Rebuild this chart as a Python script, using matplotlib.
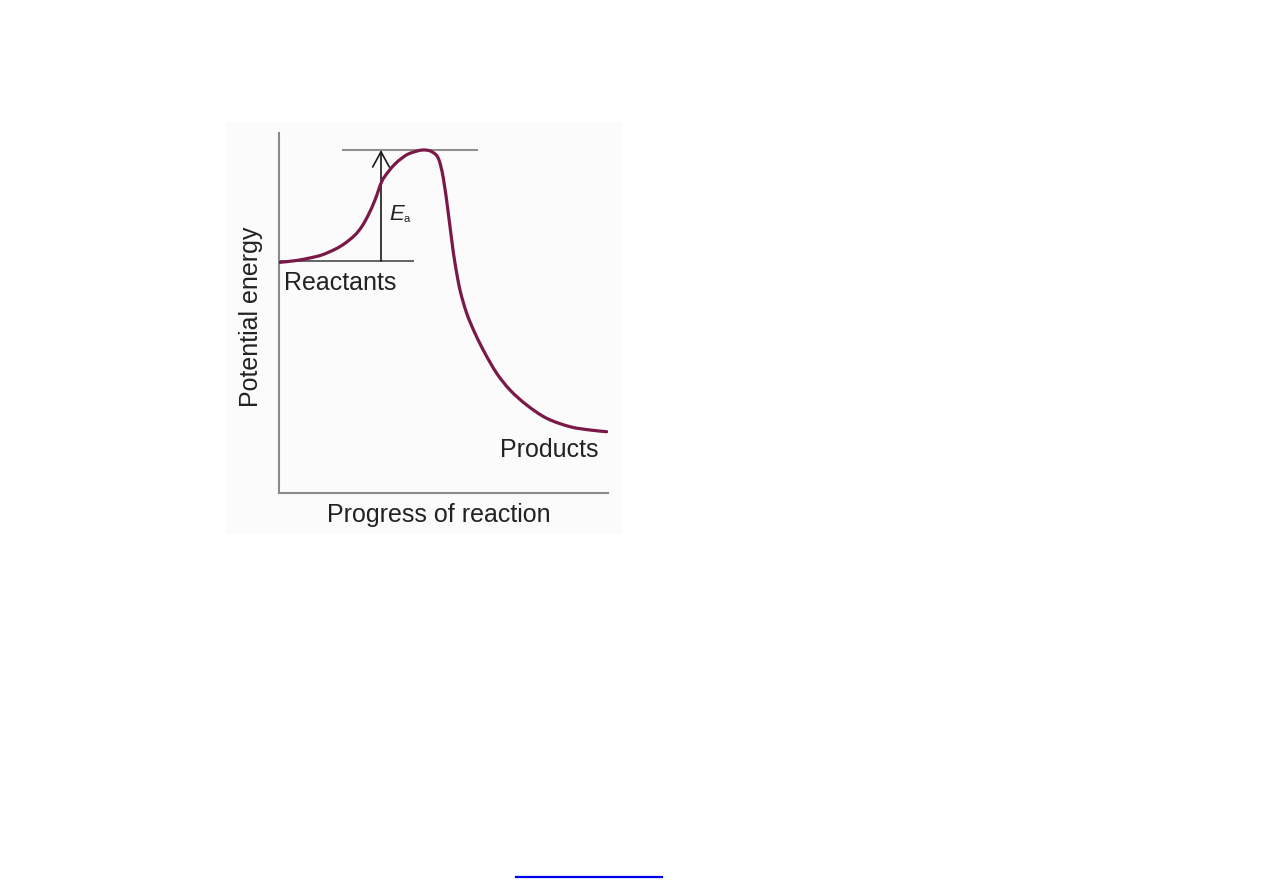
import matplotlib
matplotlib.use("Agg")
import matplotlib.pyplot as plt
import numpy as np
from matplotlib.patches import Rectangle, PathPatch
from matplotlib.path import Path
from matplotlib.lines import Line2D

plt.rcParams['font.family'] = ['Liberation Sans', 'DejaVu Sans']

# Curve (x: progress, y: potential energy)
progress = [1, 16, 29.3, 42.7, 56, 66, 76, 82.7, 89.3, 96, 102.7, 109.3, 116,
            122.7, 129.3, 139.3, 146, 152.7, 159.3, 164.3, 169.3, 172.7, 176,
            181, 187.7, 196, 206, 217.7, 231, 247.7, 267.7, 291, 311, 327.7]
energy = [230.7, 232.3, 234.7, 238, 243.7, 249.7, 258, 266.3, 278, 293, 311.3,
          321.3, 329, 334.7, 339, 342.3, 343, 341.3, 334.7, 315, 279.7, 253,
          229.7, 203, 179.7, 159.7, 139.7, 119.7, 103, 88, 74.7, 66.3, 63,
          61.3]

reactant_level = 232
peak_level = 343
reactant_line_x = [0, 135]
peak_line_x = [63, 199]
arrow_x = 102

W, H = 1263, 893
fig = plt.figure(figsize=(W / 100, H / 100), dpi=100)

# faint background panel
bg = Rectangle((226 / W, (H - 534) / H), 396 / W, 412 / H,
               transform=fig.transFigure, facecolor='#fbfbfb',
               edgecolor='none', zorder=-10)
fig.patches.append(bg)

ax = fig.add_axes([279 / W, (H - 493) / H, 329 / W, 360 / H])
ax.set_zorder(5)
ax.patch.set_alpha(0)
ax.set_xlim(0, 329)
ax.set_ylim(0, 360)
for s in ['top', 'right']:
    ax.spines[s].set_visible(False)
for s in ['left', 'bottom']:
    ax.spines[s].set_color('#8a8a8a')
    ax.spines[s].set_linewidth(1.5)
ax.set_xticks([])
ax.set_yticks([])

# reference lines
ax.plot(peak_line_x, [peak_level, peak_level], color='#8f8f8f', lw=1.5,
        solid_capstyle='butt')
ax.plot(reactant_line_x, [reactant_level, reactant_level], color='#4a4a4a',
        lw=1.2, solid_capstyle='butt')

# Ea arrow
ax.annotate('', xy=(arrow_x, peak_level), xytext=(arrow_x, reactant_level),
            arrowprops=dict(arrowstyle='->,head_length=0.55,head_width=0.3',
                            color='#1a1a1a', lw=1.2, shrinkA=0, shrinkB=0,
                            mutation_scale=20))

# energy curve: smooth Bezier path passing through the read points
P = np.column_stack([progress, energy])
verts = [tuple(P[0])]
codes = [Path.MOVETO]
n = len(P)
for i in range(n - 1):
    p0 = P[max(i - 1, 0)]
    p1 = P[i]
    p2 = P[i + 1]
    p3 = P[min(i + 2, n - 1)]
    c1 = p1 + (p2 - p0) / 6.0
    c2 = p2 - (p3 - p1) / 6.0
    verts += [tuple(c1), tuple(c2), tuple(p2)]
    codes += [Path.CURVE4] * 3
ax.add_patch(PathPatch(Path(verts, codes), facecolor='none',
                       edgecolor='#7a1848', lw=2.3, capstyle='round',
                       joinstyle='round', zorder=3))

txt = '#222222'
fs = 18
ax.text(110, 273, 'E', fontsize=16, style='italic', color=txt,
        va='baseline', ha='left')
ax.text(125, 271, 'a', fontsize=8, color=txt, va='baseline', ha='left')
ax.text(5, 203, 'Reactants', fontsize=fs, color=txt, va='baseline', ha='left')
ax.text(221, 36, 'Products', fontsize=fs, color=txt, va='baseline', ha='left')
ax.text(160, -29, 'Progress of reaction', fontsize=fs, color=txt,
        va='baseline', ha='center', clip_on=False)
ax.text(-16, 176, 'Potential energy', fontsize=fs, color=txt, rotation=90,
        va='center', ha='right', clip_on=False)

# hyperlink underline below the figure
fig.add_artist(Line2D([516 / W, 662 / W], [(H - 877) / H, (H - 877) / H],
                      transform=fig.transFigure, color='#0000ee', lw=1.6))

fig.savefig('out.png', dpi=100, facecolor='white')
